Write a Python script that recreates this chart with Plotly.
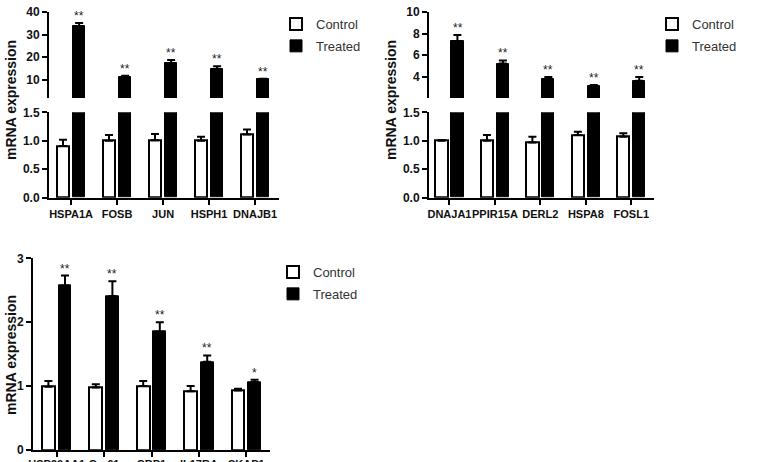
import plotly.graph_objects as go

W, H = 764, 462

# ---------------- data ----------------
p1_genes = ["HSPA1A", "FOSB", "JUN", "HSPH1", "DNAJB1"]
p1_ctrl = [0.91, 1.00, 1.01, 1.00, 1.11]
p1_ctrl_err = [0.11, 0.10, 0.11, 0.07, 0.09]
p1_trt = [33.8, 11.2, 17.4, 14.8, 10.2]
p1_trt_err = [1.3, 0.6, 1.4, 1.2, 0.3]
p1_sig = ["**", "**", "**", "**", "**"]

p2_genes = ["DNAJA1", "PPIR15A", "DERL2", "HSPA8", "FOSL1"]
p2_ctrl = [1.00, 1.00, 0.97, 1.10, 1.07]
p2_ctrl_err = [0.01, 0.10, 0.10, 0.06, 0.06]
p2_trt = [7.3, 5.2, 3.8, 3.15, 3.6]
p2_trt_err = [0.55, 0.3, 0.15, 0.05, 0.35]
p2_sig = ["**", "**", "**", "**", "**"]

p3_genes = ["HSP90AA1", "Cyr61", "CRP1", "IL17RA", "SKAP1"]
p3_ctrl = [0.99, 0.98, 1.00, 0.92, 0.93]
p3_ctrl_err = [0.09, 0.05, 0.08, 0.08, 0.03]
p3_trt = [2.57, 2.41, 1.85, 1.38, 1.06]
p3_trt_err = [0.16, 0.23, 0.15, 0.10, 0.04]
p3_sig = ["**", "**", "**", "**", "*"]

series_names = ["Control", "Treated"]
FONT = "Liberation Sans, Arial, sans-serif"

fig = go.Figure()

BW = 0.27
OFF_C, OFF_T = -0.31, 0.04


def add_bars(genes, ctrl, cerr, trt, terr, xa, ya_list, legend):
    for i, ya in enumerate(ya_list):
        show = (i == 0)
        fig.add_trace(go.Bar(
            x=genes, y=ctrl, name=series_names[0], xaxis=xa, yaxis=ya,
            width=BW, offset=OFF_C,
            marker=dict(color="white", line=dict(color="black", width=2)),
            error_y=dict(type="data", array=cerr, arrayminus=[0] * len(cerr),
                         symmetric=False, color="black", thickness=2, width=4),
            showlegend=show, legend=legend, legendgroup="c"))
        fig.add_trace(go.Bar(
            x=genes, y=trt, name=series_names[1], xaxis=xa, yaxis=ya,
            width=BW, offset=OFF_T,
            marker=dict(color="black", line=dict(color="black", width=1)),
            error_y=dict(type="data", array=terr, arrayminus=[0] * len(terr),
                         symmetric=False, color="black", thickness=2, width=4),
            showlegend=show, legend=legend, legendgroup="t"))


add_bars(p1_genes, p1_ctrl, p1_ctrl_err, p1_trt, p1_trt_err, "x", ["y", "y2"], "legend")
add_bars(p2_genes, p2_ctrl, p2_ctrl_err, p2_trt, p2_trt_err, "x2", ["y3", "y4"], "legend2")
add_bars(p3_genes, p3_ctrl, p3_ctrl_err, p3_trt, p3_trt_err, "x3", ["y5"], "legend3")


def px_x(p):
    return p / W


def px_y(p):
    return 1 - p / H


axis_common = dict(showline=True, linecolor="black", linewidth=2, ticks="outside",
                   ticklen=5, tickwidth=2, tickcolor="black", showgrid=False,
                   zeroline=False, automargin=False,
                   tickfont=dict(family=FONT, size=12, color="#111", weight="bold"))

xcommon = dict(axis_common, type="category", tickangle=0,
               tickfont=dict(family=FONT, size=11, color="#111", weight="bold"))

fig.update_layout(
    width=W, height=H, margin=dict(l=0, r=0, t=0, b=0),
    paper_bgcolor="white", plot_bgcolor="white",
    font=dict(family=FONT, color="#222"),
    xaxis=dict(xcommon, domain=[px_x(49), px_x(279)], range=[-0.48, 4.52], anchor="y"),
    yaxis=dict(axis_common, domain=[px_y(197.7), px_y(112.3)], range=[0, 1.5],
               tickvals=[0, 0.5, 1.0, 1.5], tickformat=".1f", anchor="x"),
    yaxis2=dict(axis_common, domain=[px_y(98), px_y(12)], range=[2, 40],
                tickvals=[10, 20, 30, 40], anchor="x"),
    xaxis2=dict(xcommon, domain=[px_x(429), px_x(654)], range=[-0.45, 4.5], anchor="y3"),
    yaxis3=dict(axis_common, domain=[px_y(197.7), px_y(112.3)], range=[0, 1.5],
                tickvals=[0, 0.5, 1.0, 1.5], tickformat=".1f", anchor="x2"),
    yaxis4=dict(axis_common, domain=[px_y(98), px_y(12)], range=[2, 10],
                tickvals=[4, 6, 8, 10], anchor="x2"),
    xaxis3=dict(xcommon, domain=[px_x(33), px_x(270)], range=[-0.5, 4.5], anchor="y5",
                ticklabelstandoff=-2),
    yaxis5=dict(axis_common, domain=[px_y(450), px_y(258.3)], range=[0, 3],
                tickvals=[0, 1, 2, 3], anchor="x3"),
    bargap=0, showlegend=True,
)

leg_common = dict(font=dict(family=FONT, size=13, color="#333"), bgcolor="rgba(0,0,0,0)",
                  xanchor="left", yanchor="top", traceorder="grouped", tracegroupgap=2,
                  itemclick=False)
fig.update_layout(
    legend=dict(leg_common, x=px_x(276), y=px_y(9)),
    legend2=dict(leg_common, x=px_x(652), y=px_y(9)),
    legend3=dict(leg_common, x=px_x(273), y=px_y(257)),
)

annos = []
for genes, trt, terr, sig, xr, yr in [
    (p1_genes, p1_trt, p1_trt_err, p1_sig, "x", "y2"),
    (p2_genes, p2_trt, p2_trt_err, p2_sig, "x2", "y4"),
    (p3_genes, p3_trt, p3_trt_err, p3_sig, "x3", "y5"),
]:
    for g, v, e, s in zip(genes, trt, terr, sig):
        annos.append(dict(x=g, y=v + e, xref=xr, yref=yr, text=s, showarrow=False,
                          xshift=(OFF_T + BW / 2) * 46, yanchor="bottom", yshift=-2,
                          font=dict(family=FONT, size=12, color="#222")))

for xp, yp in [(11, 100), (391, 100), (11, 355)]:
    annos.append(dict(x=px_x(xp), y=px_y(yp), xref="paper", yref="paper",
                      xanchor="center", yanchor="middle",
                      text="mRNA expression", textangle=-90, showarrow=False,
                      font=dict(family=FONT, size=14, color="#111", weight="bold")))

fig.update_layout(annotations=annos)

fig.write_html("out.html")
